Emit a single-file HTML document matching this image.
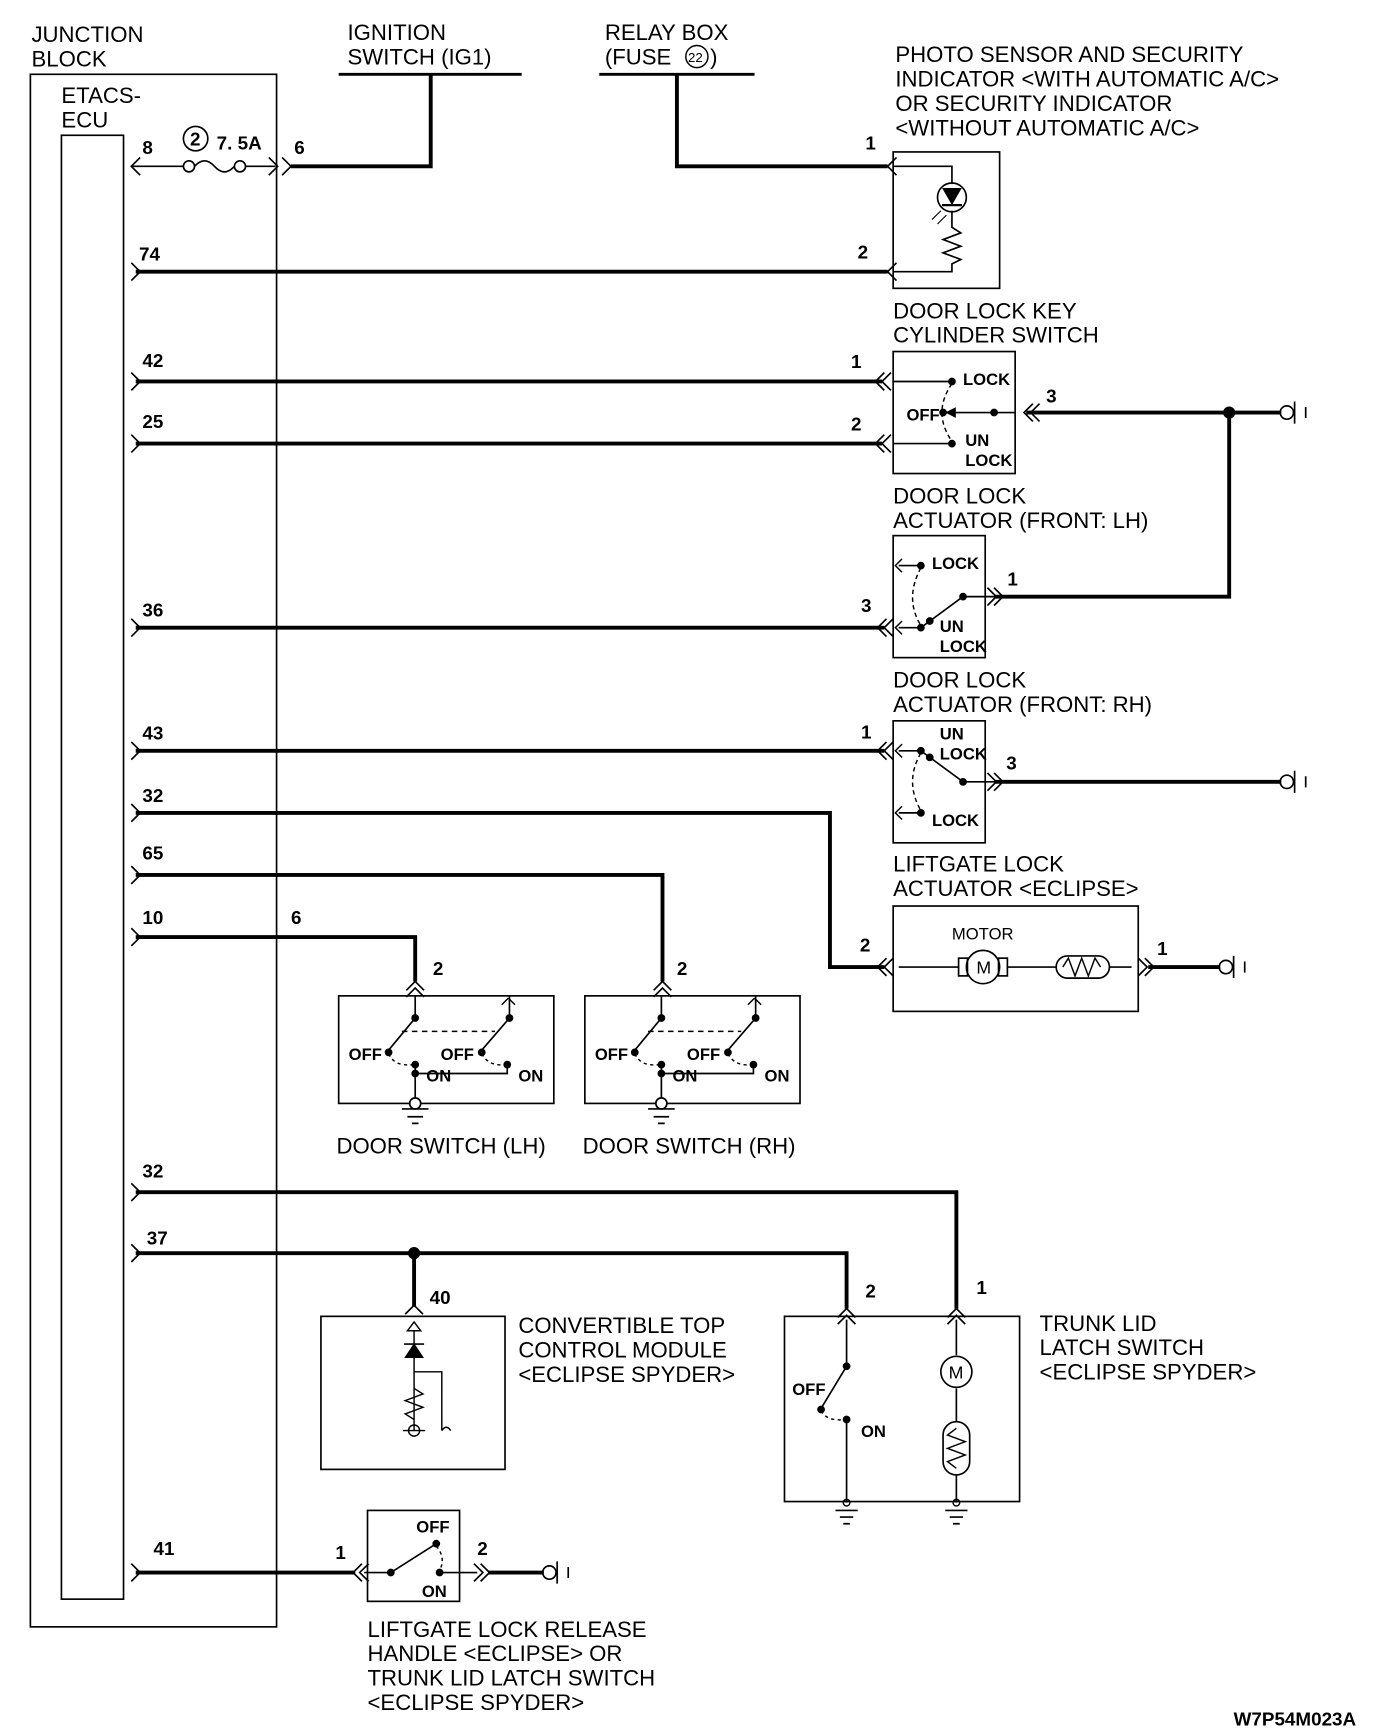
<!DOCTYPE html>
<html><head><meta charset="utf-8"><style>
html,body{margin:0;padding:0;background:#fff}
svg{display:block}
text{font-family:"Liberation Sans",sans-serif;font-size:20px;fill:#000}
.b{font-family:"Liberation Sans Narrow","Liberation Sans",sans-serif;font-weight:bold;font-size:17px}
.s{font-family:"Liberation Sans Narrow","Liberation Sans",sans-serif;font-weight:bold;font-size:15px}
</style></head><body>
<svg width="1376" height="1730" viewBox="0 0 1240 1560" xmlns="http://www.w3.org/2000/svg">
<defs>
<marker id="d" viewBox="0 0 10 10" refX="5" refY="5" markerWidth="4" markerHeight="4"><circle cx="5" cy="5" r="4" fill="#000"/></marker>
</defs>
<g fill="none" stroke="#000">
<!-- junction block -->
<rect x="27" y="67" width="222" height="1400" stroke-width="1.5"/>
<rect x="55" y="122" width="56" height="1320" stroke-width="1.5"/>
<!-- thin fuse row -->
<path d="M118 150H165M175 150Q184 140 193 150T211 150M221 150H248" stroke-width="1.5"/>
<circle cx="170" cy="150" r="5" stroke-width="1.5"/><circle cx="216" cy="150" r="5" stroke-width="1.5"/>
<circle cx="176" cy="125" r="11" stroke-width="1.5"/>
<path d="M126 142L118 150L126 158M242 142L250 150L242 158M254 142L262 150L254 158" stroke-width="1.5"/>
<!-- ignition / relay -->
<path d="M305 67H470M540 67H680" stroke-width="2.5"/>
<path d="M262 150H388V67M610 67V150H800" stroke-width="3.5"/>
<!-- ECU left arrows -->
<path d="M118 237L126 245L118 253M118 336L126 344L118 352M118 392L126 400L118 408M118 558L126 566L118 574M118 669L126 677L118 685M118 725L126 733L118 741M118 781L126 789L118 797M118 837L126 845L118 853M118 1067L126 1075L118 1083M118 1122L126 1130L118 1138M118 1410L126 1418L118 1426" stroke-width="1.5"/>
<!-- thick wires -->
<path d="M122 245H800M122 344H795M122 400H795M122 566H797M122 677H797M122 733H748V872H797M122 789H597V885M122 845H374V885M122 1075H862V1180M122 1130H763V1180M373 1130V1178M122 1418H320M440 1418H490M925 372H1155M1108 372V538H897M897 705H1155M1035 872H1100" stroke-width="3.5"/>
<circle cx="1108" cy="372" r="5" fill="#000"/><circle cx="373" cy="1130" r="5" fill="#000"/>
<!-- connector arrows at components -->
<path d="M808 142L800 150L808 158M808 237L800 245L808 253M797 336L789 344L797 352M803 336L795 344L803 352M797 392L789 400L797 408M803 392L795 400L803 408M937 364L929 372L937 380M931 364L923 372L931 380M799 558L791 566L799 574M805 558L797 566L805 574M890 530L898 538L890 546M896 530L904 538L896 546M799 669L791 677L799 685M805 669L797 677L805 685M890 697L898 705L890 713M896 697L904 705L896 713M799 864L791 872L799 880M805 864L797 872L805 880M1026 864L1034 872L1026 880M1032 864L1040 872L1032 880M366 893L374 885L382 893M366 899L374 891L382 899M589 893L597 885L605 893M589 899L597 891L605 899M755 1188L763 1180L771 1188M755 1194L763 1186L771 1194M854 1188L862 1180L870 1188M854 1194L862 1186L870 1194M365 1185L373 1177L381 1185M326 1410L318 1418L326 1426M332 1410L324 1418L332 1426M427 1410L435 1418L427 1426M433 1410L441 1418L433 1426" stroke-width="1.5"/>
<!-- grounds (chassis) -->
<g stroke-width="1.5">
<circle cx="1160" cy="372" r="6"/><path d="M1167 362V382M1177 367V377"/>
<circle cx="1160" cy="705" r="6"/><path d="M1167 695V715M1177 700V710"/>
<circle cx="1105" cy="872" r="6"/><path d="M1112 862V882M1122 867V877"/>
<circle cx="495" cy="1418" r="6"/><path d="M502 1408V1428M512 1413V1423"/>
</g>
<!-- photo sensor -->
<rect x="805" y="137" width="96" height="123" stroke-width="1.5"/>
<path d="M805 150H858V166M858 190V205L866 210L850 216L866 222L850 228L866 234L858 238V245H805" stroke-width="1.5"/>
<circle cx="858" cy="178" r="13" stroke-width="1.5"/>
<path d="M850 170H866L858 184Z" fill="#000"/><path d="M849 185H867" stroke-width="2"/>
<path d="M848 190L840 198M853 194L845 202" stroke-width="1"/>
<!-- key cylinder -->
<rect x="805" y="317" width="110" height="110" stroke-width="1.5"/>
<path d="M805 344H858M805 400H858M896 372H915M850 372H896" stroke-width="1.5"/>
<path d="M858 346Q840 372 858 398" stroke-width="1.3" stroke-dasharray="4 3"/>
<circle cx="858" cy="344" r="3" fill="#000"/><circle cx="858" cy="400" r="3" fill="#000"/><circle cx="896" cy="372" r="3" fill="#000"/><circle cx="850" cy="372" r="3" fill="#000"/>
<path d="M853 372L861 368V376Z" fill="#000"/>
<!-- actuator LH -->
<rect x="805" y="483" width="83" height="110" stroke-width="1.5"/>
<path d="M810 510H830M810 566H830L868 538H897" stroke-width="1.5"/>
<path d="M813 504L807 510L813 516M813 560L807 566L813 572" stroke-width="1.3"/>
<path d="M830 512Q815 540 830 564" stroke-width="1.3" stroke-dasharray="4 3"/>
<circle cx="830" cy="510" r="3" fill="#000"/><circle cx="830" cy="566" r="3" fill="#000"/><circle cx="868" cy="538" r="3" fill="#000"/><circle cx="838" cy="560" r="3" fill="#000"/>
<!-- actuator RH -->
<rect x="805" y="650" width="83" height="110" stroke-width="1.5"/>
<path d="M810 677H830L868 705H897M810 733H830" stroke-width="1.5"/>
<path d="M813 671L807 677L813 683M813 727L807 733L813 739" stroke-width="1.3"/>
<path d="M830 679Q815 705 830 731" stroke-width="1.3" stroke-dasharray="4 3"/>
<circle cx="830" cy="677" r="3" fill="#000"/><circle cx="830" cy="733" r="3" fill="#000"/><circle cx="868" cy="705" r="3" fill="#000"/><circle cx="838" cy="683" r="3" fill="#000"/>
<!-- liftgate actuator -->
<rect x="805" y="817" width="221" height="95" stroke-width="1.5"/>
<path d="M810 872H864M908 872H952M1000 872H1020" stroke-width="1.5"/>
<rect x="864" y="864" width="8" height="16" stroke-width="1.5"/><rect x="900" y="864" width="8" height="16" stroke-width="1.5"/>
<circle cx="886" cy="872" r="15" stroke-width="1.5"/>
<rect x="952" y="862" width="48" height="20" rx="10" stroke-width="1.5"/>
<path d="M958 872L963 864L969 880L975 864L981 880L987 864L992 872" stroke-width="1.3"/>
<!-- door switches -->
<g id="ds">
<rect x="305" y="898" width="194" height="97" stroke-width="1.5"/>
<path d="M374 898V918L350 947M374 960V980M374 968H457V960M459 898V918L434 947M374 980V990" stroke-width="1.5"/>
<path d="M458 900L452 906M458 900L464 906" stroke-width="1.3"/>
<path d="M362 930H446" stroke-width="1.3" stroke-dasharray="5 4"/>
<path d="M350 950Q355 962 372 960M434 950Q440 962 456 960" stroke-width="1.3" stroke-dasharray="3 3"/>
<circle cx="374" cy="918" r="3" fill="#000"/><circle cx="459" cy="918" r="3" fill="#000"/><circle cx="350" cy="949" r="3" fill="#000"/><circle cx="434" cy="949" r="3" fill="#000"/><circle cx="374" cy="960" r="3" fill="#000"/><circle cx="457" cy="960" r="3" fill="#000"/><circle cx="374" cy="968" r="3" fill="#000"/>
<circle cx="374" cy="995" r="5" fill="#fff" stroke-width="1.5"/><path d="M362 1000H386M367 1007H381M371 1013H377" stroke-width="1.5"/>
</g>
<use href="#ds" x="222"/>
<!-- convertible top module -->
<rect x="289" y="1187" width="166" height="138" stroke-width="1.5"/>
<path d="M373 1200V1290M373 1237H398V1290M373 1252L381 1257L365 1263L381 1269L365 1275L373 1280" stroke-width="1.3"/>
<path d="M367 1200L373 1192L379 1200Z" stroke-width="1.3"/>
<path d="M365 1224H381L373 1212Z" fill="#000"/><path d="M364 1212H382" stroke-width="1.5"/>
<circle cx="373" cy="1290" r="5" stroke-width="1.3"/><path d="M363 1290H383M398 1290Q402 1284 406 1290" stroke-width="1.3"/>
<!-- trunk lid -->
<rect x="707" y="1187" width="212" height="167" stroke-width="1.5"/>
<path d="M763 1190V1232L740 1270M763 1280V1355M862 1190V1222M862 1252V1282M862 1330V1355" stroke-width="1.5"/>
<path d="M740 1272Q745 1282 762 1280" stroke-width="1.3" stroke-dasharray="3 3"/>
<circle cx="763" cy="1232" r="3" fill="#000"/><circle cx="740" cy="1271" r="3" fill="#000"/><circle cx="763" cy="1280" r="3" fill="#000"/>
<circle cx="862" cy="1237" r="14" stroke-width="1.5"/>
<rect x="850" y="1282" width="24" height="48" rx="12" stroke-width="1.5"/>
<path d="M862 1288L854 1294L870 1300L854 1306L870 1312L854 1318L862 1324" stroke-width="1.3"/>
<circle cx="763" cy="1355" r="3" stroke-width="1.3"/><circle cx="862" cy="1355" r="3" stroke-width="1.3"/>
<path d="M753 1362H773M757 1368H769M760 1374H766M852 1362H872M856 1368H868M859 1374H865" stroke-width="1.5"/>
<!-- liftgate release -->
<rect x="331" y="1362" width="83" height="82" stroke-width="1.5"/>
<path d="M328 1418H352L393 1392M396 1418H430" stroke-width="1.5"/>
<path d="M393 1394Q402 1405 396 1416" stroke-width="1.3" stroke-dasharray="3 3"/>
<circle cx="352" cy="1418" r="3" fill="#000"/><circle cx="393" cy="1392" r="3" fill="#000"/><circle cx="396" cy="1418" r="3" fill="#000"/>
</g>
<!-- text -->
<text x="28" y="38">JUNCTION</text><text x="28" y="60">BLOCK</text>
<text x="55" y="93">ETACS-</text><text x="55" y="115">ECU</text>
<text x="313" y="36">IGNITION</text><text x="313" y="58">SWITCH (IG1)</text>
<text x="545" y="36">RELAY BOX</text><text x="545" y="58">(FUSE </text>
<circle cx="628" cy="51" r="10" fill="none" stroke="#000" stroke-width="1.3"/><text x="620" y="56" style="font-size:12px">22</text><text x="640" y="58">)</text>
<text x="807" y="56">PHOTO SENSOR AND SECURITY</text><text x="807" y="78">INDICATOR &lt;WITH AUTOMATIC A/C&gt;</text><text x="807" y="100">OR SECURITY INDICATOR</text><text x="807" y="122">&lt;WITHOUT AUTOMATIC A/C&gt;</text>
<text x="805" y="287">DOOR LOCK KEY</text><text x="805" y="309">CYLINDER SWITCH</text>
<text x="805" y="454">DOOR LOCK</text><text x="805" y="476">ACTUATOR (FRONT: LH)</text>
<text x="805" y="620">DOOR LOCK</text><text x="805" y="642">ACTUATOR (FRONT: RH)</text>
<text x="805" y="786">LIFTGATE LOCK</text><text x="805" y="808">ACTUATOR &lt;ECLIPSE&gt;</text>
<text x="303" y="1040">DOOR SWITCH (LH)</text><text x="525" y="1040">DOOR SWITCH (RH)</text>
<text x="467" y="1202">CONVERTIBLE TOP</text><text x="467" y="1224">CONTROL MODULE</text><text x="467" y="1246">&lt;ECLIPSE SPYDER&gt;</text>
<text x="937" y="1200">TRUNK LID</text><text x="937" y="1222">LATCH SWITCH</text><text x="937" y="1244">&lt;ECLIPSE SPYDER&gt;</text>
<text x="331" y="1476">LIFTGATE LOCK RELEASE</text><text x="331" y="1498">HANDLE &lt;ECLIPSE&gt; OR</text><text x="331" y="1520">TRUNK LID LATCH SWITCH</text><text x="331" y="1542">&lt;ECLIPSE SPYDER&gt;</text>
<text x="858" y="847" style="font-size:15px">MOTOR</text>
<text x="880" y="878" style="font-size:16px">M</text>
<text x="855" y="1243" style="font-size:16px">M</text>
<g class="b">
<text class="b" x="128" y="139">8</text><text class="b" x="171" y="131">2</text><text class="b" x="195" y="135">7. 5A</text><text class="b" x="265" y="139">6</text>
<text class="b" x="125" y="235">74</text><text class="b" x="773" y="233">2</text><text class="b" x="780" y="135">1</text>
<text class="b" x="128" y="331">42</text><text class="b" x="767" y="332">1</text>
<text class="b" x="128" y="386">25</text><text class="b" x="767" y="388">2</text><text class="b" x="943" y="363">3</text>
<text class="b" x="128" y="556">36</text><text class="b" x="776" y="552">3</text><text class="b" x="908" y="528">1</text>
<text class="b" x="128" y="667">43</text><text class="b" x="776" y="666">1</text><text class="b" x="907" y="694">3</text>
<text class="b" x="128" y="723">32</text><text class="b" x="128" y="775">65</text><text class="b" x="128" y="833">10</text><text class="b" x="262" y="833">6</text>
<text class="b" x="775" y="858">2</text><text class="b" x="1043" y="861">1</text>
<text class="b" x="390" y="879">2</text><text class="b" x="610" y="879">2</text>
<text class="b" x="128" y="1062">32</text><text class="b" x="132" y="1122">37</text><text class="b" x="387" y="1176">40</text><text class="b" x="780" y="1170">2</text><text class="b" x="880" y="1167">1</text>
<text class="b" x="138" y="1402">41</text><text class="b" x="302" y="1406">1</text><text class="b" x="430" y="1402">2</text>
<text class="b" x="1112" y="1556">W7P54M023A</text>
</g>
<g class="s">
<text class="s" x="868" y="347">LOCK</text><text class="s" x="817" y="379">OFF</text><text class="s" x="870" y="402">UN</text><text class="s" x="870" y="420">LOCK</text>
<text class="s" x="840" y="513">LOCK</text><text class="s" x="847" y="570">UN</text><text class="s" x="847" y="588">LOCK</text>
<text class="s" x="847" y="667">UN</text><text class="s" x="847" y="685">LOCK</text><text class="s" x="840" y="745">LOCK</text>
<text class="s" x="314" y="956">OFF</text><text class="s" x="397" y="956">OFF</text><text class="s" x="384" y="975">ON</text><text class="s" x="467" y="975">ON</text>
<text class="s" x="536" y="956">OFF</text><text class="s" x="619" y="956">OFF</text><text class="s" x="606" y="975">ON</text><text class="s" x="689" y="975">ON</text>
<text class="s" x="714" y="1258">OFF</text><text class="s" x="776" y="1296">ON</text>
<text class="s" x="375" y="1382">OFF</text><text class="s" x="380" y="1440">ON</text>
</g>
</svg>
</body></html>
